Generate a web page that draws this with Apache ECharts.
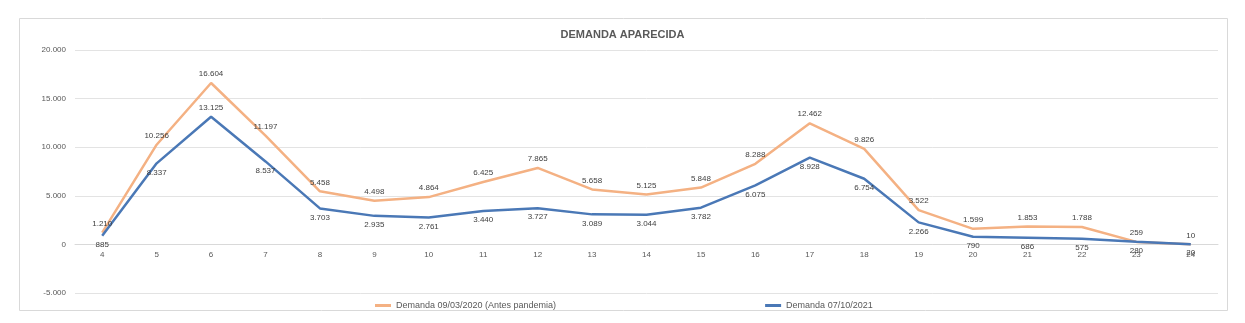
<!DOCTYPE html>
<html>
<head>
<meta charset="utf-8">
<script src="https://cdn.jsdelivr.net/npm/echarts@6/dist/echarts.min.js"></script>
<style>html,body{margin:0;padding:0;background:#fff;}#c{width:1245px;height:323px;}</style>
</head>
<body>
<div id="c"></div>
<script>
const titleText = 'DEMANDA APARECIDA';
const categories = ['4','5','6','7','8','9','10','11','12','13','14','15','16','17','18','19','20','21','22','23','24'];
const seriesNames = ['Demanda 09/03/2020 (Antes pandemia)', 'Demanda 07/10/2021'];
const demanda2020 = [1210, 10256, 16604, 11197, 5458, 4498, 4864, 6425, 7865, 5658, 5125, 5848, 8288, 12462, 9826, 3522, 1599, 1853, 1788, 259, 10];
const demanda2021 = [885, 8337, 13125, 8537, 3703, 2935, 2761, 3440, 3727, 3089, 3044, 3782, 6075, 8928, 6754, 2266, 790, 686, 575, 280, 20];
const yTicks = {min: -5000, max: 20000, interval: 5000};

function fmt(v){
  const s = Math.abs(v).toString().replace(/\B(?=(\d{3})+(?!\d))/g, '.');
  return (v < 0 ? '-' : '') + s;
}
const FONT = 'Liberation Sans';
const GRID_TOP = 50, GRID_BOTTOM = 30, H = 323;
const plotH = H - GRID_TOP - GRID_BOTTOM;
const zeroOffset = -plotH * (0 - yTicks.min) / (yTicks.max - yTicks.min);
const chart = echarts.init(document.getElementById('c'));
const blueData = demanda2021.map((v, i) => i === 2 ? {value: v, label: {position: 'top'}} : v);
chart.setOption({
  backgroundColor: '#fff',
  animation: false,
  title: {
    text: titleText, left: 'center', top: 24,
    textStyle: {fontFamily: FONT, fontSize: 11, fontWeight: 'bold', color: '#595959'}
  },
  graphic: [{
    type: 'rect', shape: {x: 19.5, y: 18.5, width: 1208, height: 292},
    style: {fill: 'none', stroke: '#d9d9d9', lineWidth: 1}, silent: true, z: -1
  }],
  legend: {
    left: 370, top: 296, itemGap: 209, itemWidth: 16, itemHeight: 3,
    icon: 'rect',
    textStyle: {fontFamily: FONT, fontSize: 9, color: '#595959'},
    data: seriesNames
  },
  grid: {left: 75, right: 27, top: GRID_TOP, bottom: GRID_BOTTOM, containLabel: false},
  xAxis: {
    type: 'category', data: categories, boundaryGap: true,
    offset: zeroOffset,
    axisLine: {onZero: false, lineStyle: {color: '#d9d9d9'}},
    axisTick: {show: false},
    axisLabel: {fontFamily: FONT, fontSize: 8, color: '#595959', margin: 6}
  },
  yAxis: {
    type: 'value', min: yTicks.min, max: yTicks.max, interval: yTicks.interval,
    axisLine: {show: false}, axisTick: {show: false},
    splitLine: {lineStyle: {color: '#e3e3e3'}},
    axisLabel: {fontFamily: FONT, fontSize: 8, color: '#595959', margin: 9, formatter: fmt}
  },
  series: [
    {
      name: seriesNames[0], type: 'line', data: demanda2020,
      symbol: 'circle', symbolSize: 0, showSymbol: true,
      lineStyle: {color: '#F4B183', width: 2.5}, itemStyle: {color: '#F4B183'},
      label: {show: true, position: 'top', fontFamily: FONT, fontSize: 8, color: '#404040', formatter: p => fmt(p.value)}
    },
    {
      name: seriesNames[1], type: 'line', data: blueData,
      symbol: 'circle', symbolSize: 0, showSymbol: true,
      lineStyle: {color: '#4A78B6', width: 2.5}, itemStyle: {color: '#4A78B6'},
      label: {show: true, position: 'bottom', fontFamily: FONT, fontSize: 8, color: '#404040', formatter: p => fmt(p.value)}
    }
  ]
});
</script>
</body>
</html>
